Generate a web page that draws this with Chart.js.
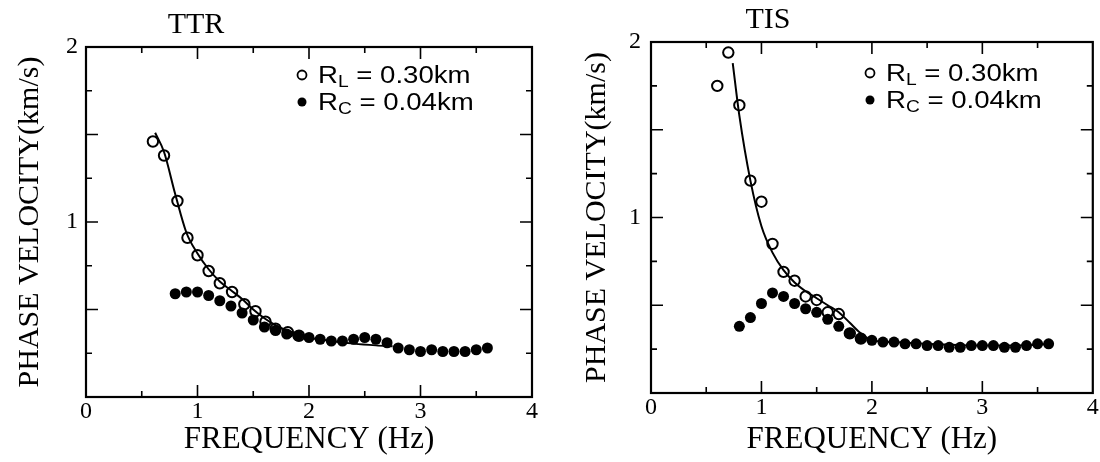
<!DOCTYPE html>
<html>
<head>
<meta charset="utf-8">
<script src="https://cdn.jsdelivr.net/npm/chart.js@4.4.1/dist/chart.umd.min.js"></script>
<style>
    html, body { margin: 0; padding: 0; background: #fff; }
    .panel { position: absolute; top: 0; width: 550px; height: 462px; }
</style>
</head>
<body>
<div class="panel" style="left:0"><canvas id="ttrChart" width="550" height="462"></canvas></div>
<div class="panel" style="left:550px"><canvas id="tisChart" width="550" height="462"></canvas></div>
<script>
// TTR (left panel)
const ttrOpenFreq = [0.6, 0.7, 0.82, 0.91, 1.0, 1.1, 1.2, 1.31, 1.42, 1.52, 1.61, 1.7, 1.81, 1.91];
const ttrOpenVel = [1.46, 1.38, 1.12, 0.91, 0.81, 0.72, 0.65, 0.60, 0.53, 0.49, 0.43, 0.39, 0.37, 0.35];
const ttrFillFreq = [0.8, 0.9, 1.0, 1.1, 1.2, 1.3, 1.4, 1.5, 1.6, 1.7, 1.8, 1.9, 2.0, 2.1, 2.2, 2.3, 2.4, 2.5, 2.6, 2.7, 2.8, 2.9, 3.0, 3.1, 3.2, 3.3, 3.4, 3.5, 3.6];
const ttrFillVel = [0.59, 0.60, 0.60, 0.58, 0.55, 0.52, 0.48, 0.44, 0.40, 0.38, 0.36, 0.35, 0.34, 0.33, 0.32, 0.32, 0.33, 0.34, 0.33, 0.31, 0.28, 0.27, 0.26, 0.27, 0.26, 0.26, 0.26, 0.27, 0.28];
const ttrLineFreq = [0.62, 0.7, 0.8, 0.9, 1.0, 1.1, 1.2, 1.3, 1.4, 1.5, 1.6, 1.7, 1.8, 1.9, 2.0, 2.2, 2.4, 2.6, 2.75];
const ttrLineVel = [1.51, 1.40, 1.16, 0.94, 0.82, 0.73, 0.66, 0.61, 0.56, 0.50, 0.45, 0.41, 0.38, 0.36, 0.34, 0.32, 0.305, 0.295, 0.29];

// TIS (right panel)
const tisOpenFreq = [0.6, 0.7, 0.8, 0.9, 1.0, 1.1, 1.2, 1.3, 1.4, 1.5, 1.6, 1.7, 1.8, 1.9];
const tisOpenVel = [1.75, 1.94, 1.64, 1.21, 1.09, 0.85, 0.69, 0.64, 0.55, 0.53, 0.46, 0.45, 0.34, 0.31];
const tisFillFreq = [0.8, 0.9, 1.0, 1.1, 1.2, 1.3, 1.4, 1.5, 1.6, 1.7, 1.8, 1.9, 2.0, 2.1, 2.2, 2.3, 2.4, 2.5, 2.6, 2.7, 2.8, 2.9, 3.0, 3.1, 3.2, 3.3, 3.4, 3.5, 3.6];
const tisFillVel = [0.38, 0.43, 0.51, 0.57, 0.55, 0.51, 0.48, 0.46, 0.42, 0.38, 0.34, 0.31, 0.30, 0.29, 0.29, 0.28, 0.28, 0.27, 0.27, 0.26, 0.26, 0.27, 0.27, 0.27, 0.26, 0.26, 0.27, 0.28, 0.28];
const tisLineFreq = [0.74, 0.8, 0.9, 1.0, 1.1, 1.2, 1.3, 1.4, 1.5, 1.6, 1.7, 1.8, 1.9, 2.0, 2.2, 2.5, 3.0, 3.5, 3.6];
const tisLineVel = [1.88, 1.58, 1.21, 0.95, 0.80, 0.70, 0.63, 0.58, 0.54, 0.50, 0.46, 0.40, 0.34, 0.30, 0.29, 0.28, 0.27, 0.275, 0.28];

const legendLabels = [['R', 'L', ' = 0.30km'], ['R', 'C', ' = 0.04km']];
const xTitle = 'FREQUENCY (Hz)';
const yTitle = 'PHASE VELOCITY(km/s)';

const SERIF = "'Liberation Serif', 'Times New Roman', serif";
const SANS = "'Liberation Sans', Arial, sans-serif";

function zip(xs, ys) {
    return xs.map((x, i) => ({ x: x, y: ys[i] }));
}

// box with inward ticks on all four sides
const framePlugin = {
    id: 'frame',
    afterDatasetsDraw(chart) {
        const { ctx, chartArea: a, scales: { x, y } } = chart;
        ctx.save();
        ctx.strokeStyle = '#000';
        ctx.lineWidth = 2.2;
        ctx.strokeRect(a.left, a.top, a.right - a.left, a.bottom - a.top);
        ctx.lineWidth = 1.6;
        ctx.beginPath();
        x.ticks.forEach(t => {
            if (t.value <= 0 || t.value >= 4) return;
            const px = x.getPixelForValue(t.value);
            const len = Number.isInteger(t.value) ? 12 : 6;
            ctx.moveTo(px, a.bottom); ctx.lineTo(px, a.bottom - len);
            ctx.moveTo(px, a.top); ctx.lineTo(px, a.top + len);
        });
        y.ticks.forEach(t => {
            if (t.value <= 0 || t.value >= 2) return;
            const py = y.getPixelForValue(t.value);
            const len = Math.abs(t.value * 2 - Math.round(t.value * 2)) < 1e-6 ? 12 : 6;
            ctx.moveTo(a.left, py); ctx.lineTo(a.left + len, py);
            ctx.moveTo(a.right, py); ctx.lineTo(a.right - len, py);
        });
        ctx.stroke();
        ctx.restore();
    }
};

// panel title and legend with subscripts
const annotatePlugin = {
    id: 'annotate',
    afterDraw(chart, args, opts) {
        const ctx = chart.ctx;
        ctx.save();
        ctx.fillStyle = '#000';
        ctx.strokeStyle = '#000';
        ctx.textBaseline = 'alphabetic';
        ctx.textAlign = 'center';
        ctx.font = '30px ' + SERIF;
        ctx.fillText(opts.title, opts.titleX, opts.titleY);

        ctx.textAlign = 'left';
        legendLabels.forEach((lab, i) => {
            const cx = opts.legendX;
            const cy = opts.legendY + i * 27;
            ctx.beginPath();
            ctx.arc(cx, cy, 4.5, 0, Math.PI * 2);
            ctx.lineWidth = 1.8;
            if (i === 0) { ctx.stroke(); } else { ctx.fill(); }
            // the scanned legend lettering is wide, stretch it a little
            ctx.save();
            ctx.translate(cx + 16, cy + 8);
            ctx.scale(1.2, 1);
            let tx = 0;
            ctx.font = '23px ' + SANS;
            ctx.fillText(lab[0], tx, 0);
            tx += ctx.measureText(lab[0]).width;
            ctx.font = '16px ' + SANS;
            ctx.fillText(lab[1], tx, 4);
            tx += ctx.measureText(lab[1]).width;
            ctx.font = '23px ' + SANS;
            ctx.fillText(lab[2], tx, 0);
            ctx.restore();
        });
        ctx.restore();
    }
};

function makeChart(id, cfg) {
    return new Chart(document.getElementById(id), {
        type: 'scatter',
        data: {
            datasets: [
                {
                    label: 'RL',
                    data: zip(cfg.openFreq, cfg.openVel),
                    pointRadius: 5.2,
                    pointBackgroundColor: 'transparent',
                    pointBorderColor: '#000',
                    pointBorderWidth: 2
                },
                {
                    label: 'RC',
                    data: zip(cfg.fillFreq, cfg.fillVel),
                    pointRadius: 5.5,
                    pointBackgroundColor: '#000',
                    pointBorderColor: '#000',
                    pointBorderWidth: 0
                },
                {
                    label: 'model',
                    data: zip(cfg.lineFreq, cfg.lineVel),
                    showLine: true,
                    pointRadius: 0,
                    borderColor: '#000',
                    borderWidth: 2,
                    cubicInterpolationMode: 'monotone',
                    fill: false
                }
            ]
        },
        options: {
            responsive: false,
            animation: false,
            layout: {
                padding: { left: 0, top: cfg.top, right: cfg.right, bottom: 0 }
            },
            scales: {
                x: {
                    type: 'linear',
                    min: 0,
                    max: 4,
                    afterFit: function (s) { s.height = cfg.xHeight; },
                    grid: { display: false, drawTicks: false },
                    border: { display: false },
                    ticks: {
                        stepSize: 0.5,
                        autoSkip: false,
                        maxRotation: 0,
                        padding: 0,
                        color: '#000',
                        font: { family: SERIF, size: 24 },
                        callback: function (v) { return Number.isInteger(v) ? String(v) : ''; }
                    },
                    title: {
                        display: true,
                        text: xTitle,
                        color: '#000',
                        font: { family: SERIF, size: 31 },
                        padding: { top: 0, bottom: 4 }
                    }
                },
                y: {
                    type: 'linear',
                    min: 0,
                    max: 2,
                    afterFit: function (s) { s.width = cfg.yWidth; },
                    grid: { display: false, drawTicks: false },
                    border: { display: false },
                    ticks: {
                        stepSize: 0.25,
                        autoSkip: false,
                        padding: cfg.yTickPad,
                        color: '#000',
                        font: { family: SERIF, size: 24 },
                        callback: function (v) { return (Number.isInteger(v) && v !== 0) ? String(v) : ''; }
                    },
                    title: {
                        display: true,
                        text: yTitle,
                        color: '#000',
                        font: { family: SERIF, size: 30 },
                        padding: { top: cfg.yTitlePad, bottom: 0 }
                    }
                }
            },
            plugins: {
                legend: { display: false },
                tooltip: { enabled: false },
                annotate: {
                    title: cfg.title,
                    titleX: cfg.titleX,
                    titleY: cfg.titleY,
                    legendX: cfg.legendX,
                    legendY: cfg.legendY
                }
            }
        },
        plugins: [framePlugin, annotatePlugin]
    });
}

makeChart('ttrChart', {
    openFreq: ttrOpenFreq, openVel: ttrOpenVel,
    fillFreq: ttrFillFreq, fillVel: ttrFillVel,
    lineFreq: ttrLineFreq, lineVel: ttrLineVel,
    top: 47, right: 18, xHeight: 65, yWidth: 86, yTickPad: 8, yTitlePad: 12,
    title: 'TTR', titleX: 196, titleY: 33,
    legendX: 302, legendY: 75
});

makeChart('tisChart', {
    openFreq: tisOpenFreq, openVel: tisOpenVel,
    fillFreq: tisFillFreq, fillVel: tisFillVel,
    lineFreq: tisLineFreq, lineVel: tisLineVel,
    top: 42, right: 6, xHeight: 69, yWidth: 101, yTickPad: 10, yTitlePad: 29,
    title: 'TIS', titleX: 218, titleY: 28,
    legendX: 320, legendY: 73
});
</script>
</body>
</html>
